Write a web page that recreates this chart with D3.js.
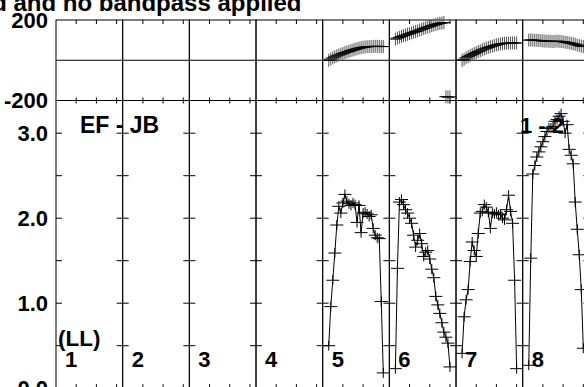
<!DOCTYPE html>
<html><head><meta charset="utf-8">
<script src="https://cdn.jsdelivr.net/npm/d3@7"></script>
<style>
html,body{margin:0;padding:0;background:#fff;overflow:hidden}
svg{display:block}
text{font-family:"Liberation Sans",Arial,Helvetica,sans-serif;font-weight:bold;fill:#000}
</style></head><body>
<svg id="c" width="584" height="387"></svg>
<script>
// ---- data ----
const ifNumbers = [1, 2, 3, 4, 5, 6, 7, 8];
const channels = [3,4,5,6,7,8,9,10,11,12,13,14,15,16,17,18,19,20,21,22,23,24,25,26,27,28,29,30];
const ampIF5 = [0.50,0.96,1.27,1.59,1.92,2.14,2.06,2.18,2.28,2.20,2.17,2.15,2.18,2.16,1.95,2.15,1.83,2.06,2.07,2.05,2.02,2.04,1.88,1.80,1.77,1.76,1.02,0.18];
const ampIF6 = [0.23,1.41,2.19,2.22,2.16,2.10,2.06,2.00,1.94,1.80,1.66,1.74,1.82,1.70,1.55,1.60,1.62,1.52,1.40,1.30,1.08,0.98,0.88,0.77,0.66,0.60,0.53,0.25];
const ampIF7 = [0.41,0.84,1.04,1.16,1.49,1.72,1.62,1.55,1.82,2.06,2.08,2.16,2.13,2.07,1.88,2.06,2.05,2.07,2.04,2.05,2.00,1.98,2.10,2.27,2.08,1.94,1.27,0.23];
const ampIF8 = [0.27,1.53,2.52,2.62,2.72,2.78,2.84,2.90,2.96,3.02,3.06,3.06,3.08,3.14,3.16,3.20,3.23,3.14,3.00,3.10,2.81,2.74,2.64,2.19,1.87,1.57,1.16,0.47];
const phaseIF5 = [0,6,12,17,22,26,30,34,38,41,44,48,51,54,57,60,62,64,66,67,68,68,69,69,69,69,68,68];
const phaseIF6 = [105,110,114,118,122,125,129,132,136,139,143,146,150,154,158,161,165,168,172,175,178,181,183,185,187,-181,-183,-182];
const phaseIF7 = [0,5,12,18,23,28,33,38,43,47,52,56,60,64,67,70,73,76,79,81,83,84,85,85,86,86,86,86];
const phaseIF8 = [100,101,100,99,99,98,97,96,95,95,94,94,93,94,95,94,93,92,90,88,86,84,82,79,76,73,70,68];
const ampMinorTicks = [0.5, 1, 1.5, 2, 2.5, 3];
const ampLabelTicks = [0, 1, 2, 3];
const phaseLabelTicks = [-200, 200];
const channelTicks = [10, 20, 30];
const titleText = "d and no bandpass applied";
const baselineText = "EF - JB";
const stokesText = "(LL)";
const pageText = "1 - 2";

// ---- layout ----
const svg = d3.select("#c");
const left = 56, panelW = 66.67;
const phTop = 20, phBot = 100.5, ampTop = 100.5, ampBot = 388.2;
const FS = 22;

const panelX = d3.scaleLinear().domain([0, 1]).range([left, left + panelW]);
const chanX = d3.scaleLinear().domain([0, 33]).range([0, panelW]);
const yPh = d3.scaleLinear().domain([-200, 200]).range([phBot, phTop]);
const yAmp = d3.scaleLinear().domain([0, (ampBot - ampTop) / 85]).range([ampBot, ampTop]);

const ampByIF = new Map([[5, ampIF5], [6, ampIF6], [7, ampIF7], [8, ampIF8]]);
const phaseByIF = new Map([[5, phaseIF5], [6, phaseIF6], [7, phaseIF7], [8, phaseIF8]]);

const g = svg.append("g");

ifNumbers.forEach((n, i) => {
  const x0 = panelX(i), x1 = panelX(i + 1);
  const pg = g.append("g");
  pg.append("rect").attr("x", x0).attr("y", phTop).attr("width", x1 - x0).attr("height", phBot - phTop)
    .attr("fill", "none").attr("stroke", "#000").attr("stroke-width", 1);
  pg.append("line").attr("x1", x0).attr("x2", x1).attr("y1", yPh(0)).attr("y2", yPh(0))
    .attr("stroke", "#000").attr("stroke-width", 1);
  pg.append("rect").attr("x", x0).attr("y", ampTop).attr("width", x1 - x0).attr("height", ampBot - ampTop)
    .attr("fill", "none").attr("stroke", "#000").attr("stroke-width", 1);
  channelTicks.forEach(c => {
    const x = x0 + chanX(c);
    [[phTop, phTop + 4], [phBot - 3, phBot], [ampTop, ampTop + 3], [ampBot - 4, ampBot]].forEach(([a, b]) => {
      pg.append("line").attr("x1", x).attr("x2", x).attr("y1", a).attr("y2", b)
        .attr("stroke", "#000").attr("stroke-width", 1);
    });
  });
  ampMinorTicks.forEach(v => {
    const y = yAmp(v);
    pg.append("line").attr("x1", x0).attr("x2", x0 + 6).attr("y1", y).attr("y2", y).attr("stroke", "#000");
    pg.append("line").attr("x1", x1 - 6).attr("x2", x1).attr("y1", y).attr("y2", y).attr("stroke", "#000");
  });
  pg.append("text").attr("x", x0 + 9).attr("y", 367).attr("font-size", FS).text(n);

  const amp = ampByIF.get(n);
  const ph = phaseByIF.get(n);
  if (amp) {
    const pts = channels.map((c, k) => [x0 + chanX(c), yAmp(amp[k])]);
    pg.append("path").attr("d", d3.line()(pts)).attr("fill", "none").attr("stroke", "#000").attr("stroke-width", 1);
    pg.append("path").attr("d", pts.map(([x, y]) => `M${x - 6.5},${y}H${x + 6.5}M${x},${y - 5}V${y + 5}`).join(""))
      .attr("fill", "none").attr("stroke", "#000").attr("stroke-width", 1);
  }
  if (ph) {
    const pts = channels.map((c, k) => [x0 + chanX(c), yPh(ph[k])]);
    pg.append("path").attr("d", pts.map(([x, y]) => `M${x},${y - 6.5}V${y + 6.5}`).join(""))
      .attr("fill", "none").attr("stroke", "#555").attr("stroke-width", 1);
    pg.append("path").attr("d", pts.map(([x, y]) => `M${x - 6.5},${y}H${x + 6.5}`).join(""))
      .attr("fill", "none").attr("stroke", "#000").attr("stroke-width", 1);
  }
});

// left axis labels
const axAmp = d3.axisLeft(yAmp).tickValues(ampLabelTicks).tickFormat(d3.format(".1f")).tickSize(0).tickPadding(8);
const axPh = d3.axisLeft(yPh).tickValues(phaseLabelTicks).tickFormat(d => String(d)).tickSize(0).tickPadding(8);
[axAmp, axPh].forEach(ax => {
  const a = svg.append("g").attr("transform", `translate(${left},0)`).call(ax);
  a.select(".domain").remove();
  a.selectAll("text").attr("font-size", FS).attr("font-family", null).attr("fill", "#000");
});

// texts
svg.append("text").attr("x", 301.5).attr("y", 11).attr("text-anchor", "end").attr("font-size", 24).text(titleText);
svg.append("text").attr("x", 80).attr("y", 133).attr("font-size", 23).text(baselineText);
svg.append("text").attr("x", 520).attr("y", 133).attr("font-size", FS).text(pageText);
svg.append("text").attr("x", 58).attr("y", 346).attr("font-size", 22.5).text(stokesText);
</script>
</body></html>
